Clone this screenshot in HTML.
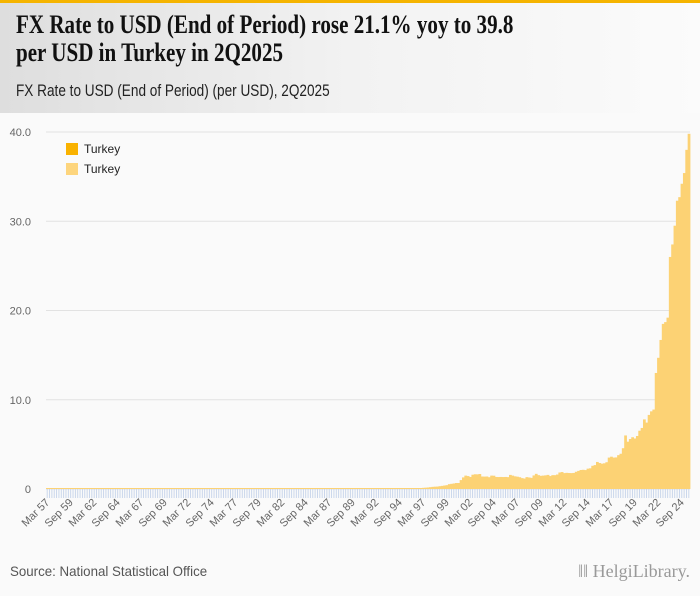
<!DOCTYPE html>
<html><head><meta charset="utf-8">
<style>
html,body{margin:0;padding:0;}
body{width:700px;height:596px;background:#fafafa;position:relative;overflow:hidden;font-family:"Liberation Sans",sans-serif;}
#topbar{position:absolute;left:0;top:0;width:700px;height:3px;background:#f5b400;}
#header{position:absolute;left:0;top:3px;width:700px;height:110px;background:linear-gradient(90deg,#dedede 0%,#f2f2f2 50%,#fbfbfb 100%);}
#title{position:absolute;left:16px;top:11px;width:625px;font-family:"Liberation Serif",serif;font-weight:bold;font-size:26px;line-height:28px;color:#111;transform:scaleX(0.81);transform-origin:0 0;}
#subtitle{position:absolute;left:16px;top:81px;font-size:17px;color:#222;transform:scaleX(0.8);transform-origin:0 0;white-space:nowrap;}
#source{position:absolute;left:10px;top:563px;font-size:14px;color:#555;transform:scaleX(0.95);transform-origin:0 0;white-space:nowrap;}
#logo{position:absolute;right:10px;top:561px;font-family:"Liberation Serif",serif;font-size:18px;color:#999;}
svg{position:absolute;left:0;top:0;}
</style></head><body>
<div id="topbar"></div>
<div id="header"></div>
<div id="title">FX Rate to USD (End of Period) rose 21.1% yoy to 39.8 per USD in Turkey in 2Q2025</div>
<div id="subtitle">FX Rate to USD (End of Period) (per USD), 2Q2025</div>
<svg id="chart" width="700" height="596"></svg>
<div id="source">Source: National Statistical Office</div>
<div id="logo">&#x2016;&#x2016; Helgi<span style="font-weight:normal">Library.</span></div>
<script>
const startYear = 1957;
const quarterNames = ["Mar","Jun","Sep","Dec"];
const yTicks = [0,10,20,30,40];
const yTickLabels = ["0","10.0","20.0","30.0","40.0"];
const valuesEarly = [
0.000009,0.000009,0.000009,0.000009, 0.000009,0.000009,0.000009,0.000009, 0.000009,0.000009,0.000009,0.000009,
0.000009,0.000009,0.000009,0.000009, 0.000009,0.000009,0.000009,0.000009, 0.000009,0.000009,0.000009,0.000009,
0.000009,0.000009,0.000009,0.000009, 0.000009,0.000009,0.000009,0.000009, 0.000009,0.000009,0.000009,0.000009,
0.000009,0.000009,0.000009,0.000009, 0.000009,0.000009,0.000009,0.000009, 0.000009,0.000009,0.000009,0.000009,
0.000009,0.000009,0.000009,0.000009, 0.000009,0.000009,0.000009,0.000009, 0.000009,0.000009,0.000009,0.000009,
0.000014,0.000014,0.000014,0.000014, 0.000015,0.000015,0.000015,0.000015, 0.000015,0.000015,0.000016,0.000017,
0.000017,0.000017,0.000018,0.000018, 0.000019,0.000020,0.000022,0.000025, 0.000026,0.000032,0.000040,0.000047,
0.000047,0.000060,0.000070,0.000080, 0.000080,0.000090,0.000095,0.000090, 0.000110,0.000120,0.000130,0.000140,
0.000150,0.000170,0.000190,0.000220, 0.000230,0.000260,0.000300,0.000320, 0.000370,0.000430,0.000490,0.000520,
0.000590,0.000640,0.000700,0.000750, 0.000850,0.000920,0.000940,0.001000, 0.001100,0.001280,0.001350,0.001500,
0.001600,0.001700,0.001800,0.001800, 0.002000,0.002200,0.002300,0.002500, 0.002700,0.002800,0.002850,0.002900,
0.003100,0.003300,0.003600,0.004200, 0.004900,0.005500,0.006300,0.006900, 0.007800,0.008500,0.009500,0.011000,
0.014000,0.015000,0.016000,0.014000, 0.020000,0.032000,0.034000,0.038000
];
const valuesRecent = [
0.040,0.042,0.045,0.060, 0.062,0.070,0.080,0.108, 0.130,0.150,0.170,0.205,
0.240,0.260,0.272,0.314, 0.350,0.390,0.430,0.541, 0.580,0.620,0.670,0.671,
1.000,1.300,1.500,1.450, 1.350,1.600,1.650,1.640, 1.680,1.400,1.390,1.400,
1.320,1.500,1.490,1.350, 1.340,1.350,1.340,1.350, 1.330,1.580,1.500,1.420,
1.380,1.320,1.220,1.170, 1.330,1.290,1.250,1.520, 1.700,1.550,1.480,1.500,
1.530,1.580,1.450,1.550, 1.550,1.620,1.850,1.900, 1.780,1.810,1.790,1.780,
1.800,1.930,2.030,2.130, 2.150,2.120,2.280,2.320, 2.600,2.680,3.030,2.910,
2.840,2.880,3.000,3.520, 3.620,3.520,3.540,3.790, 3.950,4.570,6.000,5.300,
5.600,5.800,5.660,5.940, 6.530,6.840,7.800,7.440, 8.300,8.700,8.900,13.000,
14.700,16.700,18.500,18.700, 19.200,26.000,27.400,29.500, 32.300,32.700,34.200,35.400,
38.000,39.800
];
const values = valuesEarly.concat(valuesRecent);

const svg = document.getElementById('chart');
const NS = 'http://www.w3.org/2000/svg';
const X0 = 46, X1 = 690, Y0 = 489, Y1 = 132, YMAX = 40;
const n = values.length;
const bw = (X1 - X0) / n;
function xScale(i){ return X0 + i * bw; }
function yScale(v){ return Y0 - (v / YMAX) * (Y0 - Y1); }
function mk(tag, attrs){ const e = document.createElementNS(NS, tag); for (const k in attrs) e.setAttribute(k, attrs[k]); svg.appendChild(e); return e; }

yTicks.forEach((t, k) => {
  const g = mk('line', {x1: X0, x2: X1, y1: yScale(t), y2: yScale(t), stroke: '#e2e2e2', 'stroke-width': 1});
  
  
  const tx = mk('text', {x: 31, y: yScale(t) + 4, 'text-anchor': 'end', 'font-size': 11, fill: '#666', 'font-family': 'Liberation Sans, sans-serif'});
  tx.textContent = yTickLabels[k];
  
  
});

values.forEach((v, i) => {
  const y = yScale(v);
  const h = Math.max(1, Y0 - y);
  const r = mk('rect', {x: xScale(i), y: Y0 - h, width: bw + 0.4, height: h, fill: '#fcd274'});
  
  
  const t = mk('line', {x1: xScale(i) + bw / 2, x2: xScale(i) + bw / 2, y1: Y0, y2: Y0 + 9, stroke: '#c5d3ea', 'stroke-width': 0.9});
  
  
  if (i % 10 === 0) {
    const yr = startYear + Math.floor(i / 4);
    const label = quarterNames[i % 4] + ' ' + String(yr % 100).padStart(2, '0');
    const cx = xScale(i) + bw / 2 + 3, cy = Y0 + 14;
    const tx = mk('text', {x: cx, y: cy, 'text-anchor': 'end', 'font-size': 11, fill: '#666', 'font-family': 'Liberation Sans, sans-serif', transform: 'rotate(-45 ' + cx + ' ' + cy + ')'});
    tx.textContent = label;
    
    
  }
});

[['#f9b200', 149], ['#fdd57d', 169]].forEach(([c, y]) => {
  const s = mk('rect', {x: 66, y: y - 6, width: 12, height: 12, fill: c});
  
  
  const tx = mk('text', {x: 84, y: y + 4, 'font-size': 12, fill: '#222', 'font-family': 'Liberation Sans, sans-serif'});
  tx.textContent = 'Turkey';
  
  
});
</script>
</body></html>
